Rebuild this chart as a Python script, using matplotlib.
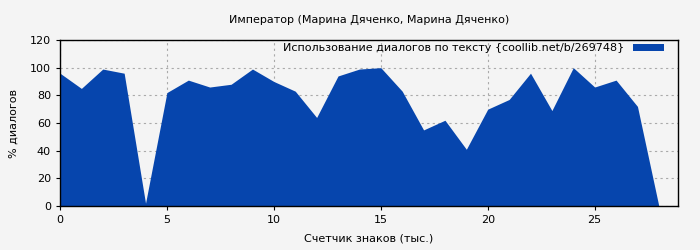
import matplotlib
matplotlib.use('Agg')
import matplotlib.pyplot as plt

# chart values
chars_k = list(range(29))
dialog_pct = [96, 85, 99, 96, 2, 82, 91, 86, 88, 99, 90, 83, 64, 94, 99, 100,
              83, 55, 62, 41, 70, 77, 96, 69, 100, 86, 91, 72, 0]

title = 'Император (Марина Дяченко, Марина Дяченко)'
series_label = 'Использование диалогов по тексту {coollib.net/b/269748}'
xlabel = 'Счетчик знаков (тыс.)'
ylabel = '% диалогов'

bg = '#f4f4f4'
fill_col = '#0645ad'

fig = plt.figure(figsize=(7, 2.5), dpi=100, facecolor=bg)
ax = fig.add_axes([0.0857, 0.176, 0.883, 0.664], facecolor=bg)

ax.fill_between(chars_k, dialog_pct, 0, color=fill_col, linewidth=0, label=series_label)

ax.set_xlim(0, 28.9)
ax.set_ylim(0, 120)
ax.set_xticks([0, 5, 10, 15, 20, 25])
ax.set_yticks([0, 20, 40, 60, 80, 100, 120])
ax.set_axisbelow(True)
ax.grid(True, color='#aaaaaa', linestyle=(0, (2, 3)), linewidth=0.8)
ax.tick_params(labelsize=8, length=3, width=0.8)
for s in ax.spines.values():
    s.set_linewidth(1)

ax.set_title(title, fontsize=8, pad=12)
ax.set_xlabel(xlabel, fontsize=8, labelpad=6)
ax.set_ylabel(ylabel, fontsize=8, labelpad=8)

leg = ax.legend(loc='upper right', bbox_to_anchor=(0.983, 1.0), frameon=False,
                fontsize=8, markerfirst=False,
                handlelength=2.8, handleheight=0.7, borderaxespad=0.0,
                borderpad=0.3, handletextpad=0.8)

fig.savefig('out.png', dpi=100, facecolor=bg)
